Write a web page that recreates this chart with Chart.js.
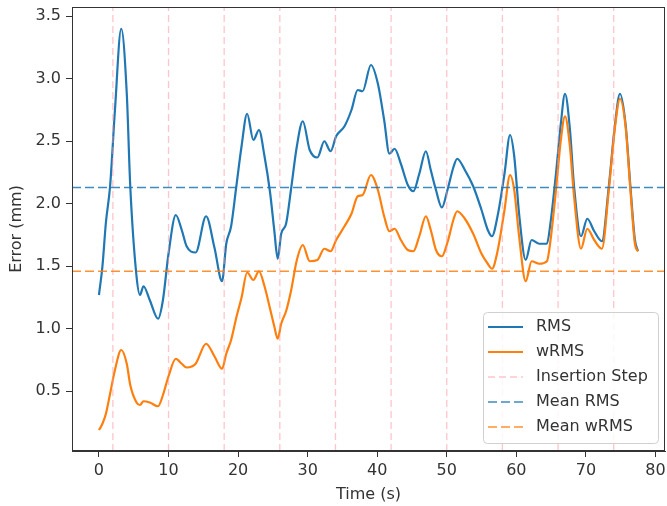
<!DOCTYPE html>
<html>
<head>
<meta charset="utf-8">
<script src="https://cdn.jsdelivr.net/npm/chart.js@4"></script>
<style>
  body { margin: 0; background: #fff; }
  #wrap { width: 667px; height: 506px; position: relative; }
</style>
</head>
<body>
<div id="wrap"><canvas id="errorChart"></canvas></div>
<script>
// values
const times = [0, 0.5, 1.0, 1.6, 2.3, 3.2, 4.0, 4.5, 5.4, 5.9, 6.4, 7.3, 8.5, 9.2, 10.0, 11.05, 11.9, 12.6, 13.9, 15.4,
  16.6, 17.7, 18.3, 19.0, 19.75, 20.5, 21.3, 22.2, 23.0, 23.8, 24.6, 25.2, 25.7, 26.2, 26.9, 27.6, 28.45, 29.3, 30.3, 31.4,
  32.4, 33.3, 34.1, 35.3, 36.3, 37.2, 37.9, 39.1, 40.1, 41.0, 41.75, 42.5, 43.4, 44.4, 45.2, 46.05, 47.0, 47.7, 48.45, 49.3,
  50.1, 51.0, 51.5, 52.6, 53.8, 55.0, 55.9, 56.5, 57.3, 58.3, 59.1, 59.7, 60.4, 61.35, 62.2, 63.3, 64.4, 64.9, 65.7, 66.4,
  67.0, 67.7, 68.3, 69.3, 70.2, 71.2, 72.3, 73.3, 74.2, 74.9, 75.7, 76.4, 77.05, 77.5];
const rmsValues = [1.27, 1.50, 1.85, 2.14, 2.75, 3.40, 2.88, 2.14, 1.42, 1.27, 1.34, 1.23, 1.08, 1.23, 1.60, 1.91, 1.79, 1.66, 1.61, 1.90,
  1.65, 1.38, 1.68, 1.82, 2.14, 2.46, 2.72, 2.51, 2.59, 2.38, 2.09, 1.79, 1.56, 1.76, 1.84, 2.11, 2.46, 2.66, 2.43, 2.37,
  2.50, 2.42, 2.54, 2.62, 2.75, 2.91, 2.90, 3.11, 2.96, 2.67, 2.40, 2.44, 2.32, 2.15, 2.10, 2.24, 2.42, 2.27, 2.11, 1.97,
  2.11, 2.30, 2.36, 2.27, 2.14, 1.95, 1.79, 1.74, 1.90, 2.24, 2.55, 2.38, 1.92, 1.55, 1.71, 1.68, 1.68, 1.84, 2.24, 2.64,
  2.88, 2.60, 2.14, 1.74, 1.88, 1.78, 1.70, 2.14, 2.64, 2.88, 2.64, 2.14, 1.71, 1.62];
const wrmsValues = [0.19, 0.24, 0.32, 0.48, 0.67, 0.83, 0.72, 0.55, 0.41, 0.39, 0.42, 0.41, 0.38, 0.47, 0.62, 0.76, 0.72, 0.69, 0.72, 0.88,
  0.78, 0.68, 0.80, 0.91, 1.09, 1.25, 1.45, 1.39, 1.46, 1.34, 1.16, 1.02, 0.92, 1.04, 1.14, 1.30, 1.55, 1.67, 1.54, 1.55,
  1.64, 1.62, 1.71, 1.82, 1.92, 2.06, 2.07, 2.23, 2.11, 1.90, 1.78, 1.80, 1.71, 1.63, 1.62, 1.74, 1.90, 1.79, 1.63, 1.58,
  1.69, 1.88, 1.94, 1.88, 1.76, 1.60, 1.52, 1.48, 1.62, 1.95, 2.23, 2.11, 1.74, 1.38, 1.54, 1.52, 1.54, 1.70, 2.11, 2.51,
  2.70, 2.46, 2.06, 1.64, 1.80, 1.71, 1.64, 2.11, 2.62, 2.84, 2.62, 2.11, 1.68, 1.62];
const stepTimes = [2, 10, 18, 26, 34, 42, 50, 58, 66, 74];
const meanRms = 2.13;
const meanWrms = 1.46;
const xTicks = [0, 10, 20, 30, 40, 50, 60, 70, 80];
const yTicks = [0.5, 1.0, 1.5, 2.0, 2.5, 3.0, 3.5];
const xRange = [-3.875, 81.375];
const yRange = [0.022, 3.574];

const FONT = 'DejaVu Sans';
const TEXT = '#333';

document.addEventListener('DOMContentLoaded', () => {
  const rmsPoints = times.map((t, i) => ({ x: t, y: rmsValues[i] }));
  const wrmsPoints = times.map((t, i) => ({ x: t, y: wrmsValues[i] }));
  const stepPoints = stepTimes.flatMap(t => [{ x: t, y: yRange[0] }, { x: t, y: yRange[1] }, { x: t, y: null }]);

  // matplotlib style frame + legend box inside the axes
  const framePlugin = {
    id: 'frame',
    afterDatasetsDraw(chart) {
      const { ctx, chartArea: a } = chart;
      ctx.save();
      ctx.strokeStyle = TEXT;
      ctx.lineWidth = 1;
      ctx.strokeRect(a.left + 0.5, a.top + 0.5, a.right - a.left - 1, a.bottom - a.top - 1);

      const w = 175, h = 131;
      const lx = a.right - 7 - w, ly = a.bottom - 8 - h;
      ctx.beginPath();
      ctx.roundRect(lx + 0.5, ly + 0.5, w, h, 4);
      ctx.fillStyle = 'rgba(255,255,255,0.85)';
      ctx.fill();
      ctx.strokeStyle = '#d0d0d0';
      ctx.stroke();

      ctx.font = '16px "' + FONT + '"';
      ctx.textBaseline = 'middle';
      chart.data.datasets.forEach((ds, i) => {
        const y = ly + 15 + i * 25;
        ctx.beginPath();
        ctx.setLineDash(ds.borderDash || []);
        ctx.strokeStyle = ds.borderColor;
        ctx.lineWidth = ds.borderWidth;
        ctx.moveTo(lx + 5, y);
        ctx.lineTo(lx + 40, y);
        ctx.stroke();
        ctx.setLineDash([]);
        ctx.fillStyle = TEXT;
        ctx.fillText(ds.label, lx + 53, y);
      });
      ctx.restore();
    }
  };

  new Chart(document.getElementById('errorChart'), {
    type: 'line',
    data: {
      datasets: [
        {
          label: 'RMS',
          data: rmsPoints,
          borderColor: '#1f77b4',
          borderWidth: 2.2,
          cubicInterpolationMode: 'monotone',
          order: 5
        },
        {
          label: 'wRMS',
          data: wrmsPoints,
          borderColor: '#ff7f0e',
          borderWidth: 2.2,
          cubicInterpolationMode: 'monotone',
          order: 4
        },
        {
          label: 'Insertion Step',
          data: stepPoints,
          borderColor: 'rgba(255,150,160,0.55)',
          borderWidth: 1.3,
          borderDash: [7, 4],
          spanGaps: false,
          tension: 0,
          order: 3
        },
        {
          label: 'Mean RMS',
          data: [{ x: xRange[0], y: meanRms }, { x: xRange[1], y: meanRms }],
          borderColor: 'rgba(31,119,180,0.85)',
          borderWidth: 1.6,
          borderDash: [9, 4],
          tension: 0,
          order: 2
        },
        {
          label: 'Mean wRMS',
          data: [{ x: xRange[0], y: meanWrms }, { x: xRange[1], y: meanWrms }],
          borderColor: 'rgba(255,127,14,0.85)',
          borderWidth: 1.6,
          borderDash: [9, 4],
          tension: 0,
          order: 1
        }
      ]
    },
    options: {
      responsive: true,
      maintainAspectRatio: false,
      animation: false,
      layout: { padding: { top: 7, right: 2, left: 0, bottom: 0 } },
      elements: { point: { radius: 0 } },
      plugins: {
        legend: { display: false },
        tooltip: { enabled: false }
      },
      scales: {
        x: {
          type: 'linear',
          min: xRange[0],
          max: xRange[1],
          afterBuildTicks: scale => { scale.ticks = xTicks.map(v => ({ value: v })); },
          afterFit: scale => {
            scale.height = 55;
            scale.paddingLeft = 0;
            scale.paddingRight = 0;
          },
          grid: { drawOnChartArea: false, tickLength: 6, tickColor: TEXT },
          border: { color: TEXT },
          ticks: { color: TEXT, padding: 4, maxRotation: 0, font: { family: FONT, size: 16 } },
          title: {
            display: true,
            text: 'Time (s)',
            color: TEXT,
            font: { family: FONT, size: 16 },
            padding: { top: 0, bottom: 2 }
          }
        },
        y: {
          min: yRange[0],
          max: yRange[1],
          afterBuildTicks: scale => { scale.ticks = yTicks.map(v => ({ value: v })); },
          afterFit: scale => {
            scale.width = 72;
            scale.paddingTop = 0;
            scale.paddingBottom = 0;
          },
          grid: { drawOnChartArea: false, tickLength: 6, tickColor: TEXT },
          border: { color: TEXT },
          ticks: {
            color: TEXT,
            padding: 5,
            font: { family: FONT, size: 16 },
            callback: v => v.toFixed(1)
          },
          title: {
            display: true,
            text: 'Error (mm)',
            color: TEXT,
            font: { family: FONT, size: 16 },
            padding: { top: 7, bottom: 0 }
          }
        }
      }
    },
    plugins: [framePlugin]
  });
});
</script>
</body>
</html>
